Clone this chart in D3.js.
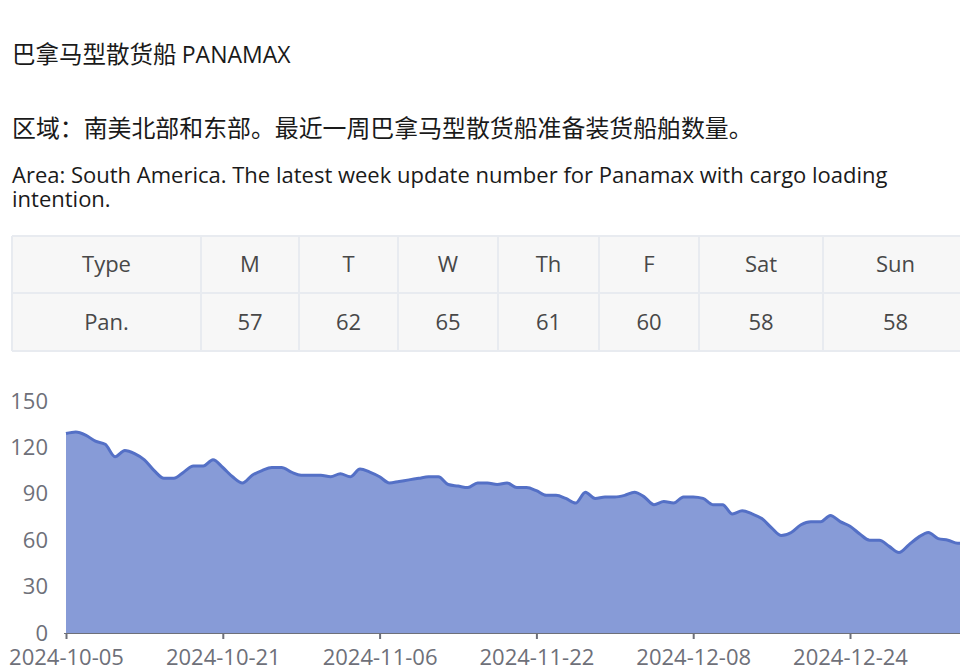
<!DOCTYPE html>
<html>
<head>
<meta charset="utf-8">
<script src="https://cdn.jsdelivr.net/npm/d3@7"></script>
<style>
  html, body { margin: 0; padding: 0; background: #fff; overflow: hidden; }
  svg { display: block; font-family: "Open Sans", "Noto Sans CJK SC", sans-serif; }
</style>
</head>
<body>
<svg id="page" width="960" height="670"></svg>
<script>
// --- data ---
const titleCn = '巴拿马型散货船'
const titleEn = 'PANAMAX'
const descCn = '区域：南美北部和东部。最近一周巴拿马型散货船准备装货船舶数量。'
const descEn = ['Area: South America. The latest week update number for Panamax with cargo loading', 'intention.']

const tableHead = ['Type', 'M', 'T', 'W', 'Th', 'F', 'Sat', 'Sun']
const tableRow = ['Pan.', 57, 62, 65, 61, 60, 58, 58]

const startDate = '2024-10-05'
const counts = [
    129, 130, 128, 124, 122, 114, 118, 116, 112, 105,
    100, 100, 104, 108, 108, 112, 107, 101, 97, 102,
    105, 107, 107, 104, 102, 102, 102, 101, 103, 101,
    106, 104, 101, 97, 98, 99, 100, 101, 101, 96,
    95, 94, 97, 97, 96, 97, 94, 94, 92, 89,
    89, 87, 84, 91, 87, 88, 88, 89, 91, 88,
    83, 85, 84, 88, 88, 87, 83, 83, 77, 79,
    77, 74, 68, 63, 65, 70, 72, 72, 76, 72,
    69, 64, 60, 60, 56, 52, 57, 62, 65, 61,
    60, 58, 58
]
const yTicks = [0, 30, 60, 90, 120, 150]
const labelEvery = 16

// --- layout ---
const colEdges = [12, 201, 299, 398, 498, 599, 699, 823, 968]
const rowEdges = [236, 293, 351]
const BLUE = '#5470c6'
const AXIS = '#6e7079'

const parse = d3.timeParse('%Y-%m-%d')
const fmt = d3.timeFormat('%Y-%m-%d')
const day0 = parse(startDate)
const data = counts.map((v, i) => ({ date: d3.timeDay.offset(day0, i), value: v }))

const svg = d3.select('#page')

// header texts
const t1 = svg.append('text').attr('x', 12).attr('y', 63).style('fill', '#1a1a1a')
t1.append('tspan').style('font-family', '"Noto Sans CJK SC"').style('font-size', '23.5px').text(titleCn + ' ')
t1.append('tspan').style('font-size', '23px').text(titleEn)

svg.append('text')
    .attr('x', 12).attr('y', 137)
    .style('font-family', '"Noto Sans CJK SC"')
    .style('font-size', '23.9px')
    .style('fill', '#1a1a1a')
    .text(descCn)

svg.append('g').selectAll('text')
    .data(descEn)
    .enter().append('text')
    .attr('x', 12)
    .attr('y', (d, i) => 183 + i * 24)
    .style('font-size', '22px')
    .style('fill', '#1a1a1a')
    .text(d => d)

// table
const table = svg.append('g')
const rows = [tableHead, tableRow]
table.append('rect')
    .attr('x', colEdges[0]).attr('y', rowEdges[0])
    .attr('width', colEdges[colEdges.length - 1] - colEdges[0])
    .attr('height', rowEdges[2] - rowEdges[0])
    .style('fill', '#f7f7f7')
rows.forEach((row, r) => {
    table.selectAll(`text.r${r}`)
        .data(row)
        .enter().append('text')
        .attr('class', `r${r}`)
        .attr('x', (d, i) => (colEdges[i] + colEdges[i + 1]) / 2)
        .attr('y', (rowEdges[r] + rowEdges[r + 1]) / 2)
        .attr('dy', '0.36em')
        .attr('text-anchor', 'middle')
        .style('font-size', '22px')
        .style('fill', '#484848')
        .text(d => d)
})
table.selectAll('line.h')
    .data(rowEdges)
    .enter().append('line')
    .attr('x1', colEdges[0]).attr('x2', 960)
    .attr('y1', d => d).attr('y2', d => d)
    .style('stroke', '#e8ebf0').style('stroke-width', 2)
table.selectAll('line.v')
    .data(colEdges.slice(0, -1))
    .enter().append('line')
    .attr('x1', d => d).attr('x2', d => d)
    .attr('y1', rowEdges[0]).attr('y2', rowEdges[2])
    .style('stroke', '#e8ebf0').style('stroke-width', 2)

// chart
const x = d3.scaleTime()
    .domain([data[0].date, data[data.length - 1].date])
    .range([66, 66 + 9.8 * (data.length - 1)])
const y = d3.scaleLinear().domain([0, 150]).range([633, 401])

const area = d3.area()
    .x(d => x(d.date))
    .y0(y(0))
    .y1(d => y(d.value))
    .curve(d3.curveMonotoneX)
const line = d3.line()
    .x(d => x(d.date))
    .y(d => y(d.value))
    .curve(d3.curveMonotoneX)

svg.append('path')
    .datum(data)
    .attr('d', area)
    .style('fill', BLUE)
    .style('fill-opacity', 0.7)
svg.append('path')
    .datum(data)
    .attr('d', line)
    .style('fill', 'none')
    .style('stroke', BLUE)
    .style('stroke-width', 3)
    .style('stroke-linejoin', 'round')

const tickDates = data.filter((d, i) => i % labelEvery === 0).map(d => d.date)

const xAxis = d3.axisBottom(x)
    .tickValues(tickDates)
    .tickFormat(fmt)
    .tickSizeInner(6).tickSizeOuter(0)
    .tickPadding(10)
const gx = svg.append('g')
    .attr('transform', `translate(0,${y(0)})`)
    .call(xAxis)
gx.select('.domain').attr('d', `M${x(data[0].date) - 2},0.5H980`).style('stroke', AXIS)
gx.selectAll('.tick line').style('stroke', AXIS).style('stroke-width', 2)
gx.selectAll('.tick text')
    .style('font-size', '22px')
    .style('font-family', '"Open Sans"')
    .style('fill', AXIS)

const gy = svg.append('g')
    .attr('transform', 'translate(48,0)')
    .call(d3.axisLeft(y).tickValues(yTicks).tickSize(0).tickPadding(0))
gy.select('.domain').remove()
gy.selectAll('.tick text')
    .style('font-size', '22px')
    .style('font-family', '"Open Sans"')
    .style('fill', AXIS)
</script>
</body>
</html>
